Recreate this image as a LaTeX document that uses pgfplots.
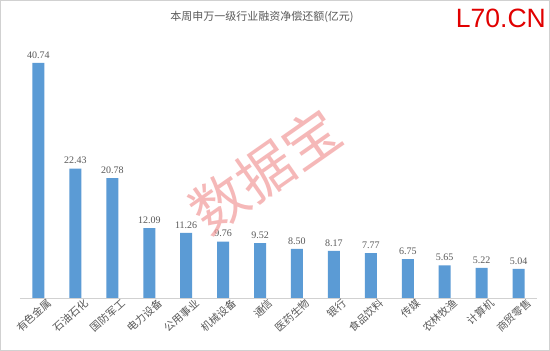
\documentclass[border=0pt]{standalone}
\usepackage{pgfplots}
\pgfplotsset{compat=1.18}
\usepackage{fontspec}
\setmainfont{Liberation Serif}
\newfontfamily\cjk{Noto Sans CJK SC}
\newfontfamily\arialf{Liberation Sans}
\definecolor{barblue}{HTML}{5B9BD5}
\definecolor{txtgray}{HTML}{595959}
\definecolor{wm}{HTML}{F29A9A}
\begin{document}
\begin{tikzpicture}[x=1pt,y=1pt]
\draw[draw=black!18, fill=white, line width=1pt] (0.5,0.5) rectangle (549.5,350.5);
\begin{axis}[
  at={(20pt,53pt)}, anchor=south west,
  scale only axis, width=517pt, height=254pt,
  xmin=-0.5, xmax=13.5, ymin=0, ymax=44,
  axis x line*=bottom, axis y line=none,
  x axis line style={draw=black!18, line width=0.8pt, -},
  xtick=data, major tick length=0pt,
  xticklabels={有色金属,石油石化,国防军工,电力设备,公用事业,机械设备,通信,医药生物,银行,食品饮料,传媒,农林牧渔,计算机,商贸零售},
  xticklabel style={font=\cjk\fontsize{10.5}{12}\selectfont, text=txtgray, rotate=42, anchor=north east, inner sep=1pt, xshift=7pt, yshift=-4pt},
  ybar, bar width=12pt,
  nodes near coords,
  every node near coord/.append style={font=\fontsize{10}{11}\selectfont, text=txtgray, yshift=1pt},
  /pgf/number format/fixed, /pgf/number format/fixed zerofill, /pgf/number format/precision=2,
  /pgf/number format/assume math mode=true,
  clip=false,
]
\addplot[fill=barblue, draw=none] coordinates {
(0,40.74) (1,22.43) (2,20.78) (3,12.09) (4,11.26) (5,9.76) (6,9.52)
(7,8.50) (8,8.17) (9,7.77) (10,6.75) (11,5.65) (12,5.22) (13,5.04)};
\end{axis}
\node[font=\cjk\fontsize{11}{13}\selectfont, text=txtgray] at (262,334) {本周申万一级行业融资净偿还额(亿元)};
\node[font=\arialf\fontsize{26.5}{28}\selectfont, text={rgb,255:red,225;green,0;blue,0}, anchor=east, inner sep=0pt] at (546,333) {L70.CN};
\node[font=\cjk\fontsize{56}{58}\selectfont, text=wm, opacity=0.7, rotate=35] at (265,180) {数据宝};
\end{tikzpicture}
\end{document}
